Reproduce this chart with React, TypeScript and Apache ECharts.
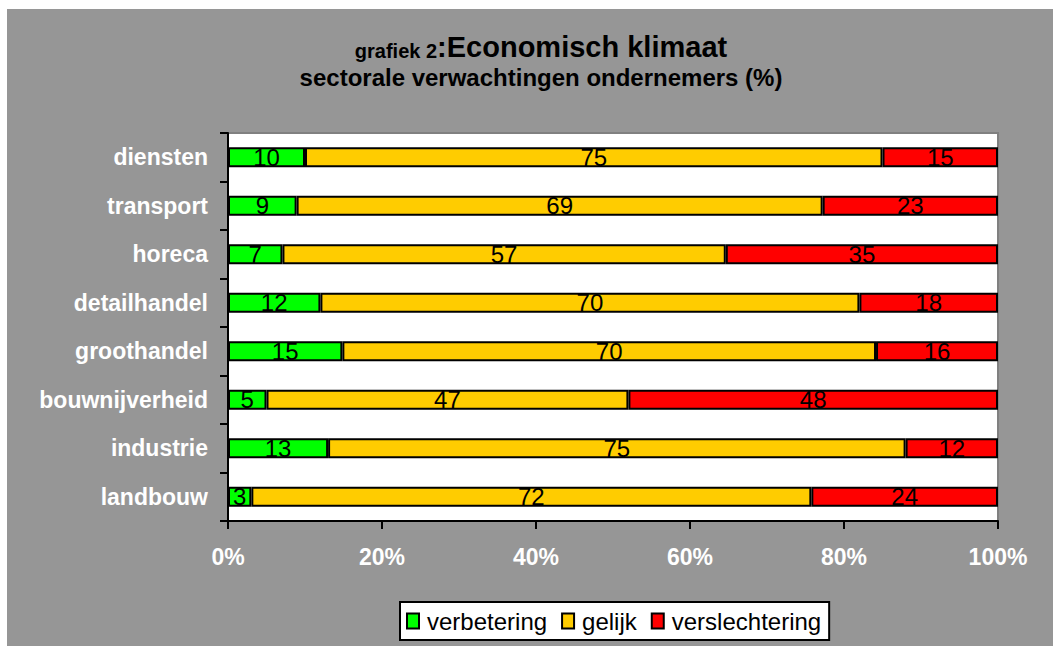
import React, { useEffect, useRef } from "react";
import * as echarts from "echarts";

const categories = [
  "diensten",
  "transport",
  "horeca",
  "detailhandel",
  "groothandel",
  "bouwnijverheid",
  "industrie",
  "landbouw",
];
const verbetering = [10, 9, 7, 12, 15, 5, 13, 3];
const gelijk = [75, 69, 57, 70, 70, 47, 75, 72];
const verslechtering = [15, 23, 35, 18, 16, 48, 12, 24];
const xTicks = [0, 20, 40, 60, 80, 100];

const seriesDefs = [
  { name: "verbetering", values: verbetering, color: "#00FF00" },
  { name: "gelijk", values: gelijk, color: "#FFCC00" },
  { name: "verslechtering", values: verslechtering, color: "#FF0000" },
];

const FONT = "'Liberation Sans', Arial, Helvetica, sans-serif";

export default function App() {
  const ref = useRef<HTMLDivElement>(null);
  useEffect(() => {
    if (!ref.current) return;
    const chart = echarts.init(ref.current, null, { renderer: "svg" });
    const totals = categories.map(
      (_, i) => verbetering[i] + gelijk[i] + verslechtering[i]
    );
    chart.setOption({
      animation: false,
      backgroundColor: "#969696",
      textStyle: { fontFamily: FONT },
      title: [
        {
          text: "{a|grafiek 2}{b|:Economisch klimaat}",
          left: 529,
          top: 15,
          textAlign: "center",
          textStyle: {
            rich: {
              a: {
                fontSize: 20,
                fontWeight: "bold",
                color: "#000",
                fontFamily: FONT,
                verticalAlign: "bottom",
                lineHeight: 32,
              },
              b: {
                fontSize: 29,
                fontWeight: "bold",
                color: "#000",
                fontFamily: FONT,
                verticalAlign: "bottom",
                lineHeight: 32,
              },
            },
          },
        },
        {
          text: "sectorale verwachtingen ondernemers (%)",
          left: 529,
          top: 51,
          textAlign: "center",
          textStyle: {
            fontSize: 24,
            fontWeight: "bold",
            color: "#000",
            fontFamily: FONT,
          },
        },
      ],
      legend: {
        left: 393,
        top: 593,
        itemWidth: 12,
        itemHeight: 15,
        itemGap: 14,
        padding: [7, 8, 7, 6],
        backgroundColor: "#FFFFFF",
        borderColor: "#000000",
        borderWidth: 2,
        textStyle: { fontSize: 24, color: "#000", fontFamily: FONT, padding: [0, 0, 0, 3] },
        data: seriesDefs.map((s) => ({ name: s.name, icon: "rect" })),
      },
      grid: {
        left: 221,
        right: 55,
        top: 124,
        bottom: 125,
        show: true,
        backgroundColor: "#FFFFFF",
        borderColor: "#808080",
        borderWidth: 2,
      },
      xAxis: {
        type: "value",
        min: xTicks[0],
        max: xTicks[xTicks.length - 1],
        interval: 20,
        axisLine: { show: true, lineStyle: { color: "#000", width: 2 } },
        axisTick: { show: true, length: 8, lineStyle: { color: "#000", width: 2 } },
        splitLine: { show: false },
        axisLabel: {
          formatter: "{value}%",
          color: "#FFFFFF",
          fontSize: 23,
          fontWeight: "bold",
          fontFamily: FONT,
          margin: 24,
        },
      },
      yAxis: {
        type: "category",
        inverse: true,
        data: categories,
        axisLine: { show: true, lineStyle: { color: "#000", width: 2 } },
        axisTick: { show: true, length: 8, lineStyle: { color: "#000", width: 2 } },
        axisLabel: {
          color: "#FFFFFF",
          fontSize: 23,
          fontWeight: "bold",
          fontFamily: FONT,
          margin: 20,
        },
      },
      series: seriesDefs.map((s) => ({
        name: s.name,
        type: "bar",
        stack: "total",
        barWidth: 20,
        data: s.values.map((v, i) => (v / totals[i]) * 100),
        itemStyle: { color: s.color, borderColor: "#000", borderWidth: 2 },
        label: {
          show: true,
          position: "inside",
          color: "#000",
          fontSize: 24,
          fontFamily: FONT,
          formatter: (p: any) => String(s.values[p.dataIndex]),
        },
      })),
    });
    return () => chart.dispose();
  }, []);
  return (
    <div
      style={{
        position: "absolute",
        left: 0,
        top: 0,
        width: 1053,
        height: 646,
        background: "#FFFFFF",
      }}
    >
      <div
        ref={ref}
        style={{ position: "absolute", left: 7, top: 9, width: 1046, height: 637 }}
      />
    </div>
  );
}
